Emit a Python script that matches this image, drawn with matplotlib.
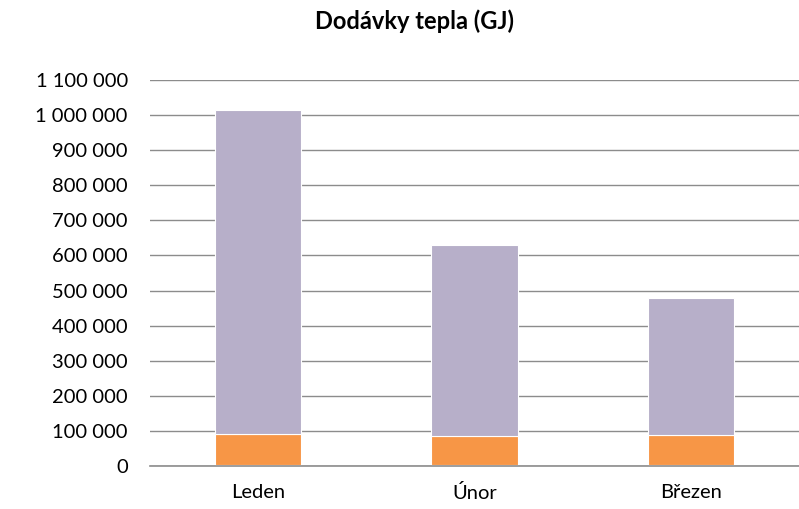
import matplotlib.pyplot as plt
from matplotlib.ticker import FuncFormatter, MultipleLocator

# Heat deliveries by month, GJ
months = ["Leden", "Únor", "Březen"]
bottom_part = [4000, 3500, 3500]
orange_part = [88600, 81100, 83900]
purple_part = [921400, 545400, 391600]

colors = ["#953735", "#F79646", "#B7AFC9"]

fig = plt.figure(figsize=(7.99, 5.09), dpi=100)
ax = fig.add_axes([150 / 799, 43 / 509, 649 / 799, 386 / 509])

x = range(len(months))
base = [0] * len(months)
for vals, c in zip([bottom_part, orange_part, purple_part], colors):
    ax.bar(x, vals, bottom=base, width=0.40, color=c, edgecolor="white",
           linewidth=0.8, zorder=3)
    base = [b + v for b, v in zip(base, vals)]

ax.set_xlim(-0.5, 2.5)
ax.set_ylim(0, 1100000)
ax.yaxis.set_major_locator(MultipleLocator(100000))
ax.yaxis.set_major_formatter(FuncFormatter(lambda v, p: f"{int(v):,}".replace(",", " ")))
ax.grid(axis="y", color="#8C8C8C", linewidth=1, zorder=0)
# baseline drawn over the bars, like the category axis
ax.axhline(0, color="#8C8C8C", linewidth=1.2, zorder=4, clip_on=False)
ax.set_xticks(list(x))
ax.set_xticklabels(months)

for s in ax.spines.values():
    s.set_visible(False)
ax.tick_params(axis="both", length=0, labelsize=14.5, labelcolor="#000000")
ax.tick_params(axis="y", pad=16)
ax.tick_params(axis="x", pad=13)
for lab in ax.get_xticklabels() + ax.get_yticklabels():
    lab.set_fontfamily("Lato")

fig.text(415 / 799, 1 - 21 / 509, "Dodávky tepla (GJ)", ha="center", va="center",
         fontsize=17, fontweight="bold", family="Lato")

fig.savefig("out.png", dpi=100)
